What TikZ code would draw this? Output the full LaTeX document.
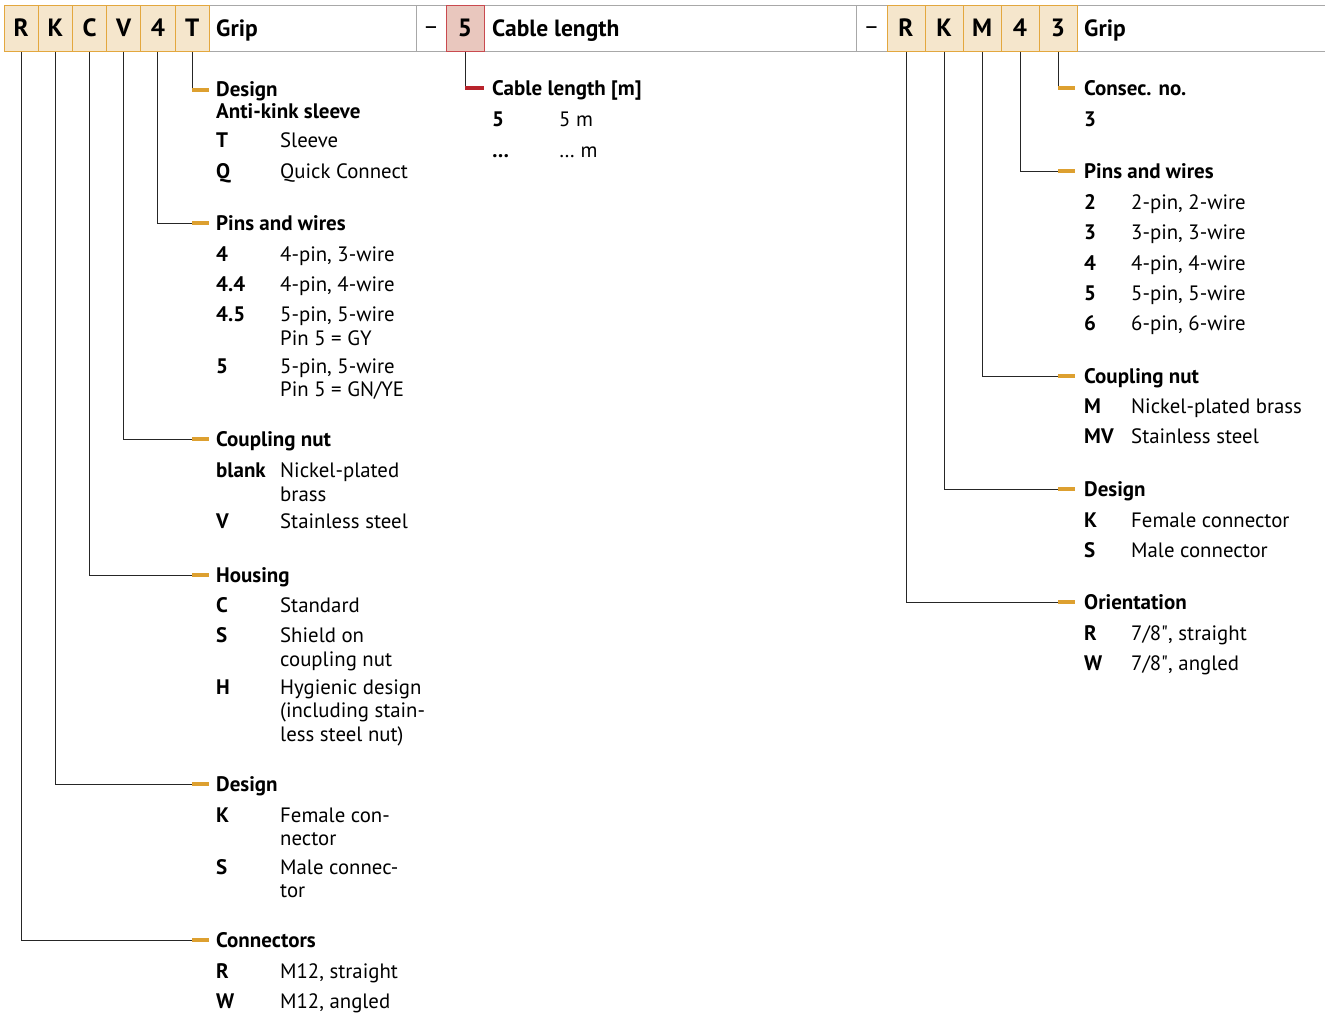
\documentclass[tikz,border=0pt]{standalone}
\usepackage{fontspec}
\setmainfont{PT Sans}
\definecolor{fillO}{HTML}{F5E6CC}
\definecolor{boxO}{HTML}{E3A73E}
\definecolor{dashO}{HTML}{DDA030}
\definecolor{fillR}{HTML}{E9C7BE}
\definecolor{boxR}{HTML}{C94A4F}
\definecolor{dashR}{HTML}{B8232B}
\definecolor{grayB}{HTML}{A8A8A8}
\newcommand\kv[6]{\node[btxt] (#1) at (#2,#4) {#5}; \node[rtxt] (#1x) at (#3,#4) {#6};}
\begin{document}
\begin{tikzpicture}[x=1pt,y=-1pt,
  conn/.style={draw=black!85, line width=0.9pt},
  odash/.style={draw=dashO, line width=4.5pt},
  rdash/.style={draw=dashR, line width=4.5pt},
  gbox/.style={draw=grayB, line width=1pt, minimum height=46pt, inner sep=0pt},
  obox/.style={draw=boxO, fill=fillO, line width=1pt, minimum height=46pt, inner sep=0pt,
     text height=17pt, text depth=0pt, font=\fontsize{25}{25}\selectfont\bfseries},
  rbox/.style={obox, draw=boxR, fill=fillR},
  htxt/.style={anchor=base west, inner sep=0pt, yshift=-8pt, font=\fontsize{23.5}{24}\selectfont\bfseries},
  hdash/.style={inner sep=0pt, text height=10pt, text depth=0pt, font=\fontsize{24}{24}\selectfont},
  btxt/.style={anchor=base west, inner sep=0pt, yshift=-7.2pt, font=\fontsize{21}{24}\selectfont\bfseries},
  rtxt/.style={anchor=base west, inner sep=0pt, yshift=-7.2pt, font=\fontsize{20.8}{24}\selectfont},
]
\useasboundingbox (0,0) rectangle (1325,1013);
\fill[white] (0,0) rectangle (1325,1013);
% ---- header: gray boxes
\node[gbox, minimum width=207pt] (gGrip1) at (312.5,28) {};
\node[gbox, minimum width=30pt] (gDash1) at (431,28) {};
\node[hdash] (tDash1) at (431,29) {–};
\node[gbox, minimum width=372pt] (gCable) at (670,28) {};
\node[gbox, minimum width=31pt] (gDash2) at (871.5,28) {};
\node[hdash] (tDash2) at (871.5,29) {–};
\node[gbox, minimum width=260pt] (gGrip2) at (1207,28) {};
\node[htxt] (tGrip1) at (216,28) {Grip};
\node[htxt] (tCable) at (492,28) {Cable length};
\node[htxt] (tGrip2) at (1084,28) {Grip};
% ---- header: code letters
\node[obox, minimum width=34.2pt] (hR) at (21.1,28) {R};
\node[obox, minimum width=34.2pt] (hK) at (55.3,28) {K};
\node[obox, minimum width=34.2pt] (hC) at (89.5,28) {C};
\node[obox, minimum width=34.2pt] (hV) at (123.7,28) {V};
\node[obox, minimum width=34.2pt] (h4) at (157.9,28) {4};
\node[obox, minimum width=34.2pt] (hT) at (192.1,28) {T};
\node[rbox, minimum width=38pt] (h5) at (465,28) {5};
\node[obox, minimum width=38pt] (jR) at (906,28) {R};
\node[obox, minimum width=38pt] (jK) at (944,28) {K};
\node[obox, minimum width=38pt] (jM) at (982,28) {M};
\node[obox, minimum width=38pt] (j4) at (1020,28) {4};
\node[obox, minimum width=38pt] (j3) at (1058,28) {3};
% ---- dash coordinates
\coordinate (dT) at (192.1,90);
\coordinate (d4) at (192.1,223);
\coordinate (dV) at (192.1,439);
\coordinate (dC) at (192.1,575);
\coordinate (dK) at (192.1,784);
\coordinate (dR) at (192.1,940);
\coordinate (d5) at (465,88);
\coordinate (e3) at (1058,88);
\coordinate (e4) at (1058,171);
\coordinate (eM) at (1058,376);
\coordinate (eK) at (1058,489);
\coordinate (eR) at (1058,602);
% ---- connectors
\draw[conn] (hT.south) |- (dT);
\draw[conn] (h4.south) |- (d4);
\draw[conn] (hV.south) |- (dV);
\draw[conn] (hC.south) |- (dC);
\draw[conn] (hK.south) |- (dK);
\draw[conn] (hR.south) |- (dR);
\draw[conn] (h5.south) |- (d5);
\draw[conn] (j3.south) |- (e3);
\draw[conn] (j4.south) |- (e4);
\draw[conn] (jM.south) |- (eM);
\draw[conn] (jK.south) |- (eK);
\draw[conn] (jR.south) |- (eR);
\foreach \d in {dT,d4,dV,dC,dK,dR,e3,e4,eM,eK,eR} \draw[odash] (\d) -- ++(17,0);
\draw[rdash] (d5) -- ++(19,0);
% ---- left block
\node[btxt] (sDesign) at (216,89) {Design};
\node[btxt] (sAnti) at (216,111) {Anti-kink sleeve};
\kv{a1}{216}{280}{140}{T}{Sleeve}
\kv{a2}{216}{280}{171}{Q}{Quick Connect}
\node[btxt] (sPins) at (216,223) {Pins and wires};
\kv{p1}{216}{280}{254}{4}{4-pin, 3-wire}
\kv{p2}{216}{280}{284}{4.4}{4-pin, 4-wire}
\kv{p3}{216}{280}{314}{4.5}{5-pin, 5-wire}
\node[rtxt] (p3y) at (280,338) {Pin 5 = GY};
\kv{p4}{216}{280}{366}{5}{5-pin, 5-wire}
\node[rtxt] (p4y) at (280,389) {Pin 5 = GN/YE};
\node[btxt] (sCoup) at (216,439) {Coupling nut};
\kv{c1}{216}{280}{470}{blank}{Nickel-plated}
\node[rtxt] (c1y) at (280,494) {brass};
\kv{c2}{216}{280}{521}{V}{Stainless steel}
\node[btxt] (sHous) at (216,575) {Housing};
\kv{h1}{216}{280}{605}{C}{Standard}
\kv{h2}{216}{280}{635}{S}{Shield on}
\node[rtxt] (h2y) at (280,659) {coupling nut};
\kv{h3}{216}{280}{687}{H}{Hygienic design}
\node[rtxt] (h3y) at (280,710) {(including stain-};
\node[rtxt] (h3z) at (280,734) {less steel nut)};
\node[btxt] (sDes2) at (216,784) {Design};
\kv{k1}{216}{280}{815}{K}{Female con-}
\node[rtxt] (k1y) at (280,838) {nector};
\kv{k2}{216}{280}{867}{S}{Male connec-}
\node[rtxt] (k2y) at (280,890) {tor};
\node[btxt] (sConn) at (216,940) {Connectors};
\kv{r1}{216}{280}{971}{R}{M12, straight}
\kv{r2}{216}{280}{1001}{W}{M12, angled}
% ---- cable block
\node[btxt] (sCab) at (492,88) {Cable length [m]};
\kv{l1}{492}{559}{119}{5}{5 m}
\kv{l2}{492}{559}{150}{…}{… m}
% ---- right block
\node[btxt] (tCons) at (1084,88) {Consec. no.};
\node[btxt] (n1) at (1084,119) {3};
\node[btxt] (tPins) at (1084,171) {Pins and wires};
\kv{q1}{1084}{1131}{202}{2}{2-pin, 2-wire}
\kv{q2}{1084}{1131}{232}{3}{3-pin, 3-wire}
\kv{q3}{1084}{1131}{263}{4}{4-pin, 4-wire}
\kv{q4}{1084}{1131}{293}{5}{5-pin, 5-wire}
\kv{q5}{1084}{1131}{323}{6}{6-pin, 6-wire}
\node[btxt] (tCoup) at (1084,376) {Coupling nut};
\kv{m1}{1084}{1131}{406}{M}{Nickel-plated brass}
\kv{m2}{1084}{1131}{436}{MV}{Stainless steel}
\node[btxt] (tDes) at (1084,489) {Design};
\kv{g1}{1084}{1131}{520}{K}{Female connector}
\kv{g2}{1084}{1131}{550}{S}{Male connector}
\node[btxt] (tOri) at (1084,602) {Orientation};
\kv{o1}{1084}{1131}{633}{R}{7/8\textquotedbl, straight}
\kv{o2}{1084}{1131}{663}{W}{7/8\textquotedbl, angled}
\end{tikzpicture}
\end{document}
